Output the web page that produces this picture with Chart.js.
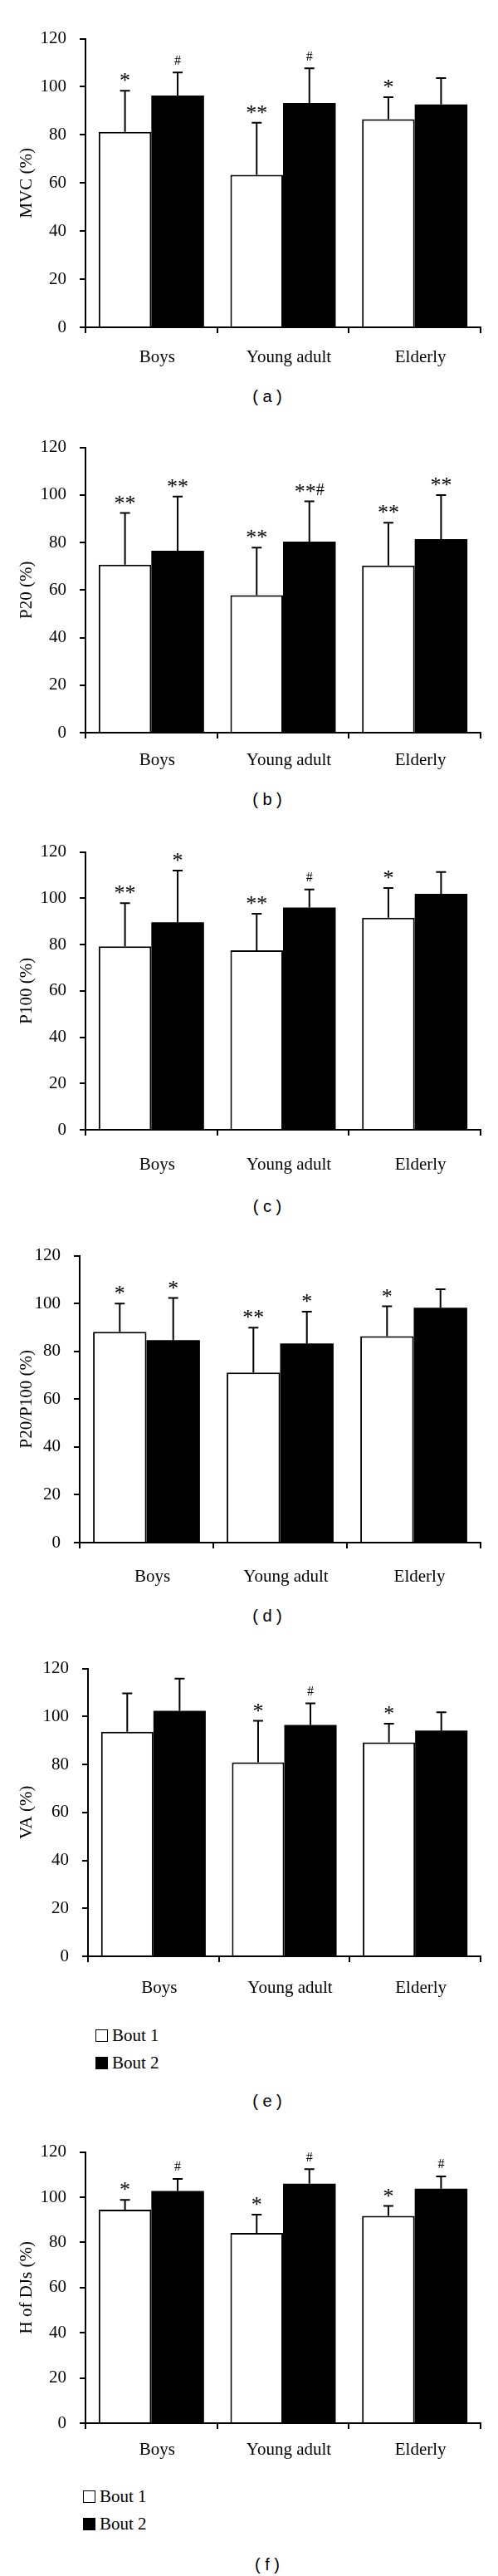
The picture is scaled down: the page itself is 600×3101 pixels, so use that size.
<!DOCTYPE html>
<html>
<head>
<meta charset="utf-8">
<script src="https://cdn.jsdelivr.net/npm/chart.js@4.4.1/dist/chart.umd.min.js"></script>
<style>
  body { margin: 0; background: #fff; }
  #page { position: relative; width: 600px; height: 3101px; overflow: hidden; }
  canvas { position: absolute; left: 0; }
  .caption { position: absolute; left: 222px; width: 200px; text-align: center;
             font: 20px "Liberation Sans", Arial, sans-serif; color: #000; line-height: 22px; }
  .leg { position: absolute; font: 21px "Liberation Serif", "Times New Roman", serif; color: #000;
         line-height: 24px; white-space: nowrap; }
  .leg span { display: inline-block; width: 15px; height: 15px; box-sizing: border-box;
              border: 1.5px solid #000; margin-right: 5px; vertical-align: -1px; }
</style>
</head>
<body>
<div id="page"></div>
<script>
// ---- données ----
const groups = ['Boys', 'Young adult', 'Elderly'];

// (a) MVC
const mvcBout1 = [81.3, 63.4, 86.5];
const mvcBout1Sd = [17.1, 21.7, 9.2];
const mvcBout2 = [96.4, 93.3, 92.7];
const mvcBout2Sd = [9.6, 14.4, 10.9];
const mvcMarks1 = ['*', '**', '*'];
const mvcMarks2 = ['#', '#', ''];

// (b) P20
const p20Bout1 = [70.7, 57.8, 70.3];
const p20Bout1Sd = [21.7, 20.0, 18.0];
const p20Bout2 = [76.5, 80.4, 81.4];
const p20Bout2Sd = [22.8, 16.9, 18.5];
const p20Marks1 = ['**', '**', '**'];
const p20Marks2 = ['**', '**#', '**'];

// (c) P100
const p100Bout1 = [79.2, 77.5, 91.6];
const p100Bout1Sd = [18.7, 15.8, 12.8];
const p100Bout2 = [89.6, 96.0, 101.9];
const p100Bout2Sd = [22.4, 7.8, 9.4];
const p100Marks1 = ['**', '**', '*'];
const p100Marks2 = ['*', '#', ''];

// (d) P20/P100
const ratioBout1 = [88.2, 71.1, 86.3];
const ratioBout1Sd = [11.8, 18.8, 12.5];
const ratioBout2 = [84.7, 83.3, 98.2];
const ratioBout2Sd = [17.6, 13.3, 7.8];
const ratioMarks1 = ['*', '**', '*'];
const ratioMarks2 = ['*', '*', ''];

// (e) VA
const vaBout1 = [93.6, 80.9, 89.2];
const vaBout1Sd = [16.0, 17.3, 7.8];
const vaBout2 = [102.4, 96.5, 94.1];
const vaBout2Sd = [13.4, 9.0, 7.7];
const vaMarks1 = ['', '*', '*'];
const vaMarks2 = ['', '#', ''];

// (f) H of DJs
const djBout1 = [94.5, 84.2, 91.7];
const djBout1Sd = [4.3, 8.1, 4.4];
const djBout2 = [102.8, 106.0, 103.8];
const djBout2Sd = [5.3, 6.4, 5.4];
const djMarks1 = ['*', '*', '*'];
const djMarks2 = ['#', '#', '#'];

const yTicks = [0, 20, 40, 60, 80, 100, 120];
const seriesNames = ['Bout 1', 'Bout 2'];

// ---- mise en page des panneaux ----
const panels = [
  { title: 'MVC (%)', cap: '( a )', b1: mvcBout1, s1: mvcBout1Sd, m1: mvcMarks1, b2: mvcBout2, s2: mvcBout2Sd, m2: mvcMarks2,
    left: 103, top: 33, bottom: 394, labelY: 430, capY: 477 },
  { title: 'P20 (%)', cap: '( b )', b1: p20Bout1, s1: p20Bout1Sd, m1: p20Marks1, b2: p20Bout2, s2: p20Bout2Sd, m2: p20Marks2,
    left: 103, top: 525, bottom: 882, labelY: 915, capY: 962 },
  { title: 'P100 (%)', cap: '( c )', b1: p100Bout1, s1: p100Bout1Sd, m1: p100Marks1, b2: p100Bout2, s2: p100Bout2Sd, m2: p100Marks2,
    left: 103, top: 1012, bottom: 1360, labelY: 1402, capY: 1452 },
  { title: 'P20/P100 (%)', cap: '( d )', b1: ratioBout1, s1: ratioBout1Sd, m1: ratioMarks1, b2: ratioBout2, s2: ratioBout2Sd, m2: ratioMarks2,
    left: 96, top: 1498, bottom: 1857, labelY: 1898, capY: 1945 },
  { title: 'VA (%)', cap: '( e )', b1: vaBout1, s1: vaBout1Sd, m1: vaMarks1, b2: vaBout2, s2: vaBout2Sd, m2: vaMarks2,
    left: 106, top: 1995, bottom: 2355, labelY: 2393, capY: 2529, legX: 115, legY: [2450, 2483] },
  { title: 'H of DJs (%)', cap: '( f )', b1: djBout1, s1: djBout1Sd, m1: djMarks1, b2: djBout2, s2: djBout2Sd, m2: djMarks2,
    left: 103, top: 2577, bottom: 2917, labelY: 2949, capY: 3087, legX: 100, legY: [3005, 3038] }
];

const SERIF = '"Liberation Serif", "Times New Roman", serif';
const PAD_TOP = 15;
const X_AXIS_H = 60;

// Dessine une étiquette (*, **, #, **#) centrée au-dessus du chapeau de la barre d'erreur
function dessinerMarque(ctx, texte, x, yCap) {
  if (!texte) return;
  const etoiles = texte.replace(/#/g, '');
  const diese = texte.indexOf('#') >= 0 ? '#' : '';
  const fontEtoile = '26px ' + SERIF;
  const fontDiese = (etoiles ? 20 : 16) + 'px ' + SERIF;
  ctx.font = fontEtoile;
  const we = etoiles ? ctx.measureText(etoiles).width : 0;
  ctx.font = fontDiese;
  const wd = diese ? ctx.measureText(diese).width : 0;
  let cx = x - (we + wd) / 2;
  ctx.fillStyle = '#000';
  ctx.textAlign = 'left';
  ctx.textBaseline = 'alphabetic';
  if (etoiles) {
    ctx.font = fontEtoile;
    const m = ctx.measureText(etoiles);
    const cy = yCap - 16;
    ctx.fillText(etoiles, cx, cy + (m.actualBoundingBoxAscent - m.actualBoundingBoxDescent) / 2);
    cx += we;
  }
  if (diese) {
    ctx.font = fontDiese;
    const m = ctx.measureText(diese);
    const cy = yCap - 15;
    ctx.fillText(diese, cx, cy + (m.actualBoundingBoxAscent - m.actualBoundingBoxDescent) / 2);
  }
}

// Plugin : barres d'erreur (moitié haute) + marques de significativité
const pluginErreurs = {
  id: 'erreurs',
  afterDatasetsDraw(chart) {
    const ctx = chart.ctx;
    const yScale = chart.scales.y;
    chart.data.datasets.forEach(function(ds, di) {
      const meta = chart.getDatasetMeta(di);
      meta.data.forEach(function(bar, i) {
        const x = bar.x;
        const yHaut = yScale.getPixelForValue(ds.data[i] + ds.sd[i]);
        ctx.save();
        ctx.strokeStyle = '#000';
        ctx.lineWidth = 2;
        ctx.beginPath();
        ctx.moveTo(x, bar.y);
        ctx.lineTo(x, yHaut);
        ctx.moveTo(x - 6, yHaut);
        ctx.lineTo(x + 6, yHaut);
        ctx.stroke();
        dessinerMarque(ctx, ds.marks[i], x, yHaut);
        ctx.restore();
      });
    });
  }
};

const page = document.getElementById('page');

panels.forEach(function(p) {
  const canvasTop = p.top - PAD_TOP;
  const canvasH = (p.bottom - p.top) + PAD_TOP + X_AXIS_H;
  const canvas = document.createElement('canvas');
  canvas.width = 600;
  canvas.height = canvasH;
  canvas.style.top = canvasTop + 'px';
  canvas.style.width = '600px';
  canvas.style.height = canvasH + 'px';
  page.appendChild(canvas);

  // centre visuel du libellé = axe + tickLength + padding + lineHeight/2
  const labelPad = (p.labelY - p.bottom) - 7 - 12.6;

  new Chart(canvas.getContext('2d'), {
    type: 'bar',
    data: {
      labels: groups,
      datasets: [
        { label: seriesNames[0], data: p.b1, sd: p.s1, marks: p.m1,
          backgroundColor: '#fff', borderColor: '#000', borderWidth: 2,
          categoryPercentage: 0.8, barPercentage: 1.0 },
        { label: seriesNames[1], data: p.b2, sd: p.s2, marks: p.m2,
          backgroundColor: '#000', borderColor: '#000', borderWidth: 0,
          categoryPercentage: 0.8, barPercentage: 1.0 }
      ]
    },
    options: {
      responsive: false,
      animation: false,
      devicePixelRatio: 1,
      layout: { padding: { top: PAD_TOP, right: 21, left: 0, bottom: 0 } },
      plugins: { legend: { display: false }, tooltip: { enabled: false } },
      scales: {
        x: {
          grid: { display: true, drawOnChartArea: false, drawTicks: true, tickLength: 7,
                  color: '#000', lineWidth: 2, offset: true },
          border: { display: true, color: '#000', width: 2 },
          ticks: { color: '#000', font: { family: SERIF, size: 21 }, padding: labelPad,
                   labelOffset: 7, maxRotation: 0 },
          afterFit: function(s) { s.height = X_AXIS_H; }
        },
        y: {
          min: 0, max: 120,
          afterBuildTicks: function(s) { s.ticks = yTicks.map(function(v) { return { value: v }; }); },
          grid: { display: true, drawOnChartArea: false, drawTicks: true, tickLength: 7,
                  color: '#000', lineWidth: 2 },
          border: { display: true, color: '#000', width: 2 },
          ticks: { color: '#000', font: { family: SERIF, size: 21 }, padding: 16 },
          title: { display: true, text: p.title, color: '#000',
                   font: { family: SERIF, size: 21 }, padding: { top: 20, bottom: 0 } },
          afterFit: function(s) { s.width = p.left; }
        }
      }
    },
    plugins: [pluginErreurs]
  });

  // légende (panneaux e et f)
  if (p.legX !== undefined) {
    [0, 1].forEach(function(k) {
      const d = document.createElement('div');
      d.className = 'leg';
      d.style.left = p.legX + 'px';
      d.style.top = (p.legY[k] - 12) + 'px';
      const box = document.createElement('span');
      box.style.background = k === 0 ? '#fff' : '#000';
      d.appendChild(box);
      d.appendChild(document.createTextNode(seriesNames[k]));
      page.appendChild(d);
    });
  }

  // légende du panneau : ( a ), ( b ), ...
  const c = document.createElement('div');
  c.className = 'caption';
  c.style.top = (p.capY - 11) + 'px';
  c.textContent = p.cap;
  page.appendChild(c);
});
</script>
</body>
</html>
